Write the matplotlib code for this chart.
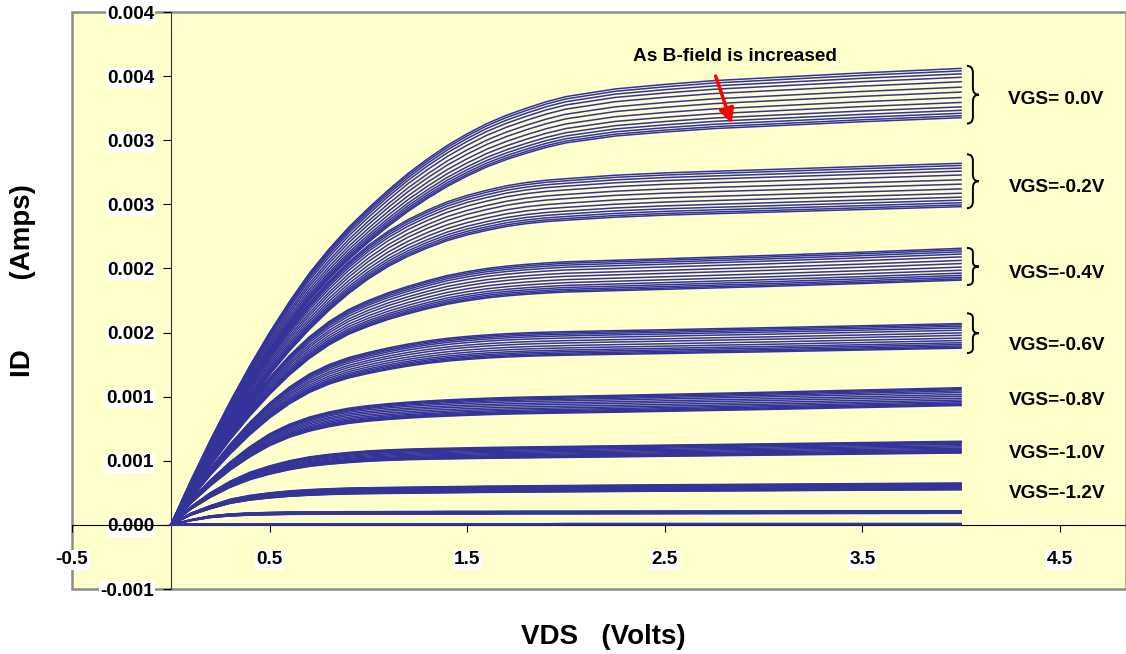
import matplotlib
matplotlib.use("Agg")
import matplotlib.pyplot as plt
from matplotlib.path import Path
from matplotlib.patches import PathPatch, Rectangle

plt.rcParams["font.family"] = ["Liberation Sans", "DejaVu Sans"]
plt.rcParams["font.weight"] = "bold"

# VDS sample points (Volts)
vds = [0, 0.1, 0.2, 0.3, 0.4, 0.5, 0.6, 0.7, 0.8, 0.9, 1.0,
       1.1, 1.2, 1.3, 1.4, 1.5, 1.6, 1.7, 1.8, 1.9, 2.0,
       2.25, 2.5, 2.75, 3.0, 3.5, 4.0]

# top curve (lowest B-field) of every VGS family, ID in mA
id_vgs_0_0 = [0, .34, .66, .96, 1.24, 1.50, 1.74, 1.96, 2.15, 2.32, 2.47,
              2.61, 2.74, 2.855, 2.96, 3.05, 3.13, 3.195, 3.25, 3.30, 3.34,
              3.40, 3.435, 3.465, 3.485, 3.525, 3.56]
id_vgs_0_2 = [0, .30, .58, .85, 1.10, 1.33, 1.54, 1.73, 1.90, 2.05, 2.18,
              2.29, 2.38, 2.455, 2.52, 2.57, 2.61, 2.645, 2.67, 2.688, 2.70,
              2.727, 2.745, 2.758, 2.77, 2.795, 2.82]
id_vgs_0_4 = [0, .27, .52, .75, .96, 1.15, 1.32, 1.465, 1.585, 1.68, 1.75,
              1.81, 1.86, 1.905, 1.945, 1.975, 2.0, 2.018, 2.032, 2.043, 2.052,
              2.064, 2.076, 2.088, 2.10, 2.127, 2.157]
id_vgs_0_6 = [0, .23, .44, .63, .80, .95, 1.075, 1.175, 1.25, 1.305, 1.345,
              1.38, 1.41, 1.435, 1.455, 1.47, 1.482, 1.491, 1.498, 1.503, 1.507,
              1.515, 1.522, 1.53, 1.537, 1.553, 1.57]
id_vgs_0_8 = [0, .19, .35, .49, .61, .71, .785, .84, .88, .91, .93,
              .945, .957, .967, .975, .982, .988, .993, .997, 1.0, 1.003,
              1.01, 1.018, 1.026, 1.034, 1.052, 1.07]
id_vgs_1_0 = [0, .14, .25, .34, .41, .46, .50, .53, .55, .565, .577,
              .585, .591, .595, .598, .601, .604, .606, .608, .61, .612,
              .617, .622, .627, .632, .642, .652]
id_vgs_1_2 = [0, .09, .15, .20, .23, .25, .265, .275, .282, .287, .29,
              .292, .294, .296, .298, .30, .302, .303, .305, .306, .307,
              .31, .313, .315, .317, .322, .326]
id_vgs_1_4 = [0, .04, .07, .085, .093, .097, .10, .101, .102, .103, .103,
              .1035, .104, .104, .105, .105, .105, .1055, .106, .106, .106,
              .1065, .107, .1075, .108, .109, .11]
id_vgs_1_6 = [0, .005, .008, .008, .008, .008, .008, .008, .009, .009, .009,
              .009, .009, .009, .009, .009, .009, .009, .009, .009, .01,
              .01, .01, .01, .01, .01, .01]

# ratio of the highest-B curve to the lowest-B curve, per family
low_ratio = [0.892, 0.880, 0.885, 0.878, 0.87, 0.86, 0.84, 0.82, 0.3]
# relative position of each B-field curve inside a family (0 = top, 1 = bottom)
b_spread = [0, 0.05, 0.11, 0.18, 0.27, 0.38, 0.48, 0.59, 0.69, 0.78, 0.85, 0.91, 0.96, 1.0]

vgs_labels = ["VGS= 0.0V", "VGS=-0.2V", "VGS=-0.4V", "VGS=-0.6V",
              "VGS=-0.8V", "VGS=-1.0V", "VGS=-1.2V"]
label_y = [0.00332, 0.00263, 0.00196, 0.00140, 0.00097, 0.000556, 0.000243]
brace_spans = [(0.00313, 0.00358), (0.00247, 0.00289), (0.00187, 0.00216), (0.00134, 0.00165)]

xticks = [-0.5, 0.5, 1.5, 2.5, 3.5, 4.5]
xtick_labels = ["-0.5", "0.5", "1.5", "2.5", "3.5", "4.5"]
yticks = [-0.0005, 0.0, 0.0005, 0.001, 0.0015, 0.002, 0.0025, 0.003, 0.0035, 0.004]
ytick_labels = ["-0.001", "0.000", "0.001", "0.001", "0.002", "0.002",
                "0.003", "0.003", "0.004", "0.004"]

families = [id_vgs_0_0, id_vgs_0_2, id_vgs_0_4, id_vgs_0_6, id_vgs_0_8,
            id_vgs_1_0, id_vgs_1_2, id_vgs_1_4, id_vgs_1_6]

LINE = "#333399"
FS = 13.7


def draw_brace(ax, x, y_lo, y_hi, w):
    ym = (y_lo + y_hi) / 2
    r = (y_hi - y_lo) * 0.12
    xm = x + w / 2
    verts = [(x, y_hi), (xm, y_hi), (xm, y_hi - r), (xm, ym + r),
             (xm, ym), (x + w, ym), (xm, ym), (xm, ym - r),
             (xm, y_lo + r), (xm, y_lo), (x, y_lo)]
    codes = [Path.MOVETO, Path.CURVE3, Path.CURVE3, Path.LINETO,
             Path.CURVE3, Path.CURVE3, Path.CURVE3, Path.CURVE3,
             Path.LINETO, Path.CURVE3, Path.CURVE3]
    ax.add_patch(PathPatch(Path(verts, codes), fill=False, edgecolor="black",
                           lw=1.4, zorder=4))


fig = plt.figure(figsize=(11.26, 6.54), dpi=100)
ax = fig.add_axes([72 / 1126, 1 - 589 / 654, 1 - 72 / 1126, 577 / 654])
ax.set_facecolor("#FFFFCC")

for top, ratio in zip(families, low_ratio):
    for f in b_spread:
        k = 1 - f * (1 - ratio)
        ax.plot(vds, [v * 1e-3 * k for v in top], color=LINE, lw=1.1, zorder=3)

ax.set_xlim(-0.5, 4.835)
ax.set_ylim(-0.0005, 0.004)

for s in ("top", "right"):
    ax.spines[s].set_visible(False)
ax.spines["left"].set_position(("data", 0))
ax.spines["bottom"].set_position(("data", 0))
ax.spines["left"].set_color("#333333")
ax.spines["bottom"].set_color("black")
ax.add_patch(Rectangle((0, 0), 1, 1, transform=ax.transAxes, fill=False,
                       edgecolor="#8c8c8c", lw=1.8, clip_on=False, zorder=1.5))

ax.set_xticks(xticks)
ax.set_xticklabels(xtick_labels)
ax.set_yticks(yticks)
ax.set_yticklabels(ytick_labels)
ax.tick_params(axis="x", direction="out", length=5, pad=14, labelsize=FS)
ax.tick_params(axis="y", direction="out", length=6, pad=6, labelsize=FS)
for lab in ax.get_xticklabels() + ax.get_yticklabels():
    lab.set_fontweight("bold")
    lab.set_bbox(dict(facecolor="white", edgecolor="none", pad=1))

for txt, y in zip(vgs_labels, label_y):
    ax.text(4.24, y, txt, fontsize=FS, fontweight="bold", va="center", ha="left")
for lo, hi in brace_spans:
    draw_brace(ax, 4.03, lo, hi, 0.06)

ax.text(2.854, 0.003654, "As B-field is increased", fontsize=FS,
        fontweight="bold", ha="center", va="center")
ax.annotate("", xy=(2.839, 0.00313), xytext=(2.758, 0.00350),
            arrowprops=dict(arrowstyle="-|>", color="red", lw=2.5,
                            mutation_scale=22, shrinkA=0, shrinkB=0), zorder=6)

fig.text(23 / 1126, 1 - 281 / 654, "ID         (Amps)", rotation=90, fontsize=20,
         fontweight="bold", ha="center", va="center")
fig.text(603 / 1126, 1 - 637 / 654, "VDS   (Volts)", fontsize=20,
         fontweight="bold", ha="center", va="center")

fig.savefig("out.png", dpi=100, facecolor="white")
